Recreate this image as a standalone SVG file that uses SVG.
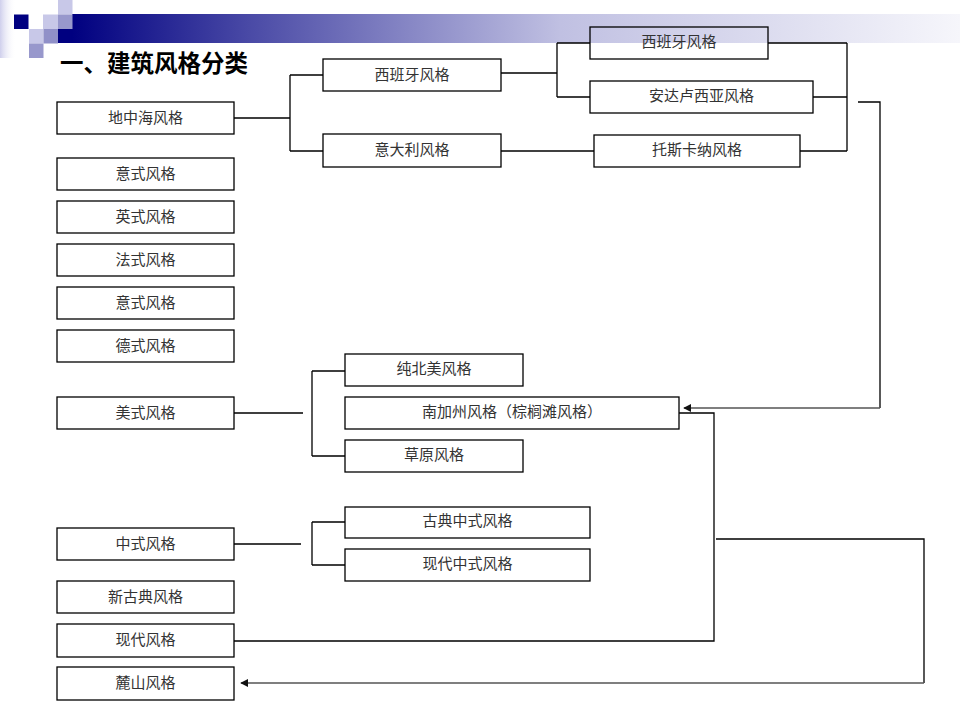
<svg xmlns="http://www.w3.org/2000/svg" width="960" height="720" viewBox="0 0 960 720">
<defs>
<linearGradient id="bar" x1="72" y1="0" x2="960" y2="0" gradientUnits="userSpaceOnUse">
<stop offset="0" stop-color="#000080"/>
<stop offset="0.2" stop-color="#4a4aa6"/>
<stop offset="0.55" stop-color="#c0c0e2"/>
<stop offset="1" stop-color="#f6f6fb"/>
</linearGradient>
<linearGradient id="edge" x1="0" y1="0" x2="1" y2="0">
<stop offset="0" stop-color="#cfcfec"/>
<stop offset="1" stop-color="#ffffff" stop-opacity="0"/>
</linearGradient>
<marker id="arr" viewBox="0 0 10 10" refX="9" refY="5" markerWidth="8" markerHeight="8" markerUnits="userSpaceOnUse" orient="auto">
<path d="M0,0 L10,5 L0,10 z" fill="#111"/>
</marker>
<style>
.box{fill:none;stroke:#000;stroke-width:1.3}
.lbl{font-family:"Noto Sans CJK SC","Noto Sans",sans-serif;font-size:15px;fill:#333;text-anchor:middle;dominant-baseline:central}
.ln{fill:none;stroke:#000;stroke-width:1.3}
.ar{fill:none;stroke:#555;stroke-width:1.6;marker-end:url(#arr)}
</style>
</defs>

<g id="decoration">
<rect x="0" y="0" width="16" height="58" fill="url(#edge)"/>
<rect x="72" y="14" width="888" height="29" fill="url(#bar)"/>
<rect x="58" y="0" width="14.5" height="14.5" fill="#c8c8e8"/>
<rect x="14" y="14.5" width="14.5" height="14.5" fill="#000080"/>
<rect x="43" y="14.5" width="15" height="14.5" fill="#c8c8e8"/>
<rect x="58" y="14.5" width="14.5" height="14.5" fill="#9898cc"/>
<rect x="29" y="29" width="14.5" height="14.5" fill="#c8c8e8"/>
<rect x="43.5" y="29" width="14.5" height="14.5" fill="#9090c8"/>
<rect x="58" y="29" width="14.5" height="14" fill="#000080"/>
<rect x="29" y="43.5" width="14.5" height="14.5" fill="#9898cc"/>
</g>

<text id="title" x="60" y="72" font-family="'Noto Sans CJK SC','Noto Sans',sans-serif" font-size="23.5" font-weight="bold" fill="#000">一、建筑风格分类</text>

<g id="connectors">
<path class="ln" d="M234,118 H290 M290,75 V151 M290,75 H323 M290,151 H323"/>
<path class="ln" d="M501,73 H557 M557,43 V97 M557,43 H590 M557,97 H590"/>
<path class="ln" d="M501,151 H594"/>
<path class="ln" d="M768,43 H847 M813,97 H847 M800,151 H847 M847,43 V151"/>
<path class="ln" d="M858,102 H880 V408"/>
<path class="ar" d="M880,408 H684"/>
<path class="ln" d="M234,413 H303 M312,371 V456 M312,371 H345 M312,456 H345"/>
<path class="ln" d="M234,544 H301 M312,522 V565 M312,522 H345 M312,565 H345"/>
<path class="ln" d="M234,641 H714 V413 H679"/>
<path class="ln" d="M716,539 H924 V683"/>
<path class="ar" d="M924,683 H241"/>
</g>

<g id="n-dizhonghai"><rect class="box" x="57" y="102" width="177" height="32"/><text class="lbl" x="145.5" y="116">地中海风格</text></g>
<g id="n-yishi1"><rect class="box" x="57" y="158" width="177" height="32"/><text class="lbl" x="145.5" y="172">意式风格</text></g>
<g id="n-yingshi"><rect class="box" x="57" y="201" width="177" height="32"/><text class="lbl" x="145.5" y="215">英式风格</text></g>
<g id="n-fashi"><rect class="box" x="57" y="244" width="177" height="32"/><text class="lbl" x="145.5" y="258">法式风格</text></g>
<g id="n-yishi2"><rect class="box" x="57" y="287" width="177" height="32"/><text class="lbl" x="145.5" y="301">意式风格</text></g>
<g id="n-deshi"><rect class="box" x="57" y="330" width="177" height="32"/><text class="lbl" x="145.5" y="344">德式风格</text></g>
<g id="n-meishi"><rect class="box" x="57" y="397" width="177" height="32"/><text class="lbl" x="145.5" y="411">美式风格</text></g>
<g id="n-zhongshi"><rect class="box" x="57" y="528" width="177" height="32"/><text class="lbl" x="145.5" y="542">中式风格</text></g>
<g id="n-xingudian"><rect class="box" x="57" y="581" width="177" height="32"/><text class="lbl" x="145.5" y="595">新古典风格</text></g>
<g id="n-xiandai"><rect class="box" x="57" y="624" width="177" height="33"/><text class="lbl" x="145.5" y="638">现代风格</text></g>
<g id="n-lushan"><rect class="box" x="57" y="667" width="177" height="33"/><text class="lbl" x="145.5" y="681">麓山风格</text></g>

<g id="n-xibanya1"><rect class="box" x="323" y="59" width="178" height="32"/><text class="lbl" x="412" y="73">西班牙风格</text></g>
<g id="n-yidali"><rect class="box" x="323" y="134" width="178" height="33"/><text class="lbl" x="412" y="148">意大利风格</text></g>
<g id="n-xibanya2"><rect class="box" x="590" y="27" width="178" height="32"/><text class="lbl" x="679" y="40">西班牙风格</text></g>
<g id="n-andaluxiya"><rect class="box" x="590" y="81" width="223" height="32"/><text class="lbl" x="701.5" y="94">安达卢西亚风格</text></g>
<g id="n-tuosikana"><rect class="box" x="594" y="135" width="206" height="32"/><text class="lbl" x="697" y="148">托斯卡纳风格</text></g>

<g id="n-chunbeimei"><rect class="box" x="345" y="354" width="178" height="32"/><text class="lbl" x="434" y="367">纯北美风格</text></g>
<g id="n-nanjiazhou"><rect class="box" x="345" y="397" width="334" height="32"/><text class="lbl" x="512" y="410">南加州风格（棕榈滩风格）</text></g>
<g id="n-caoyuan"><rect class="box" x="345" y="440" width="178" height="32"/><text class="lbl" x="434" y="453">草原风格</text></g>

<g id="n-gudianzhongshi"><rect class="box" x="345" y="507" width="245" height="31"/><text class="lbl" x="467.5" y="519">古典中式风格</text></g>
<g id="n-xiandaizhongshi"><rect class="box" x="345" y="549" width="245" height="32"/><text class="lbl" x="467.5" y="562">现代中式风格</text></g>
</svg>
